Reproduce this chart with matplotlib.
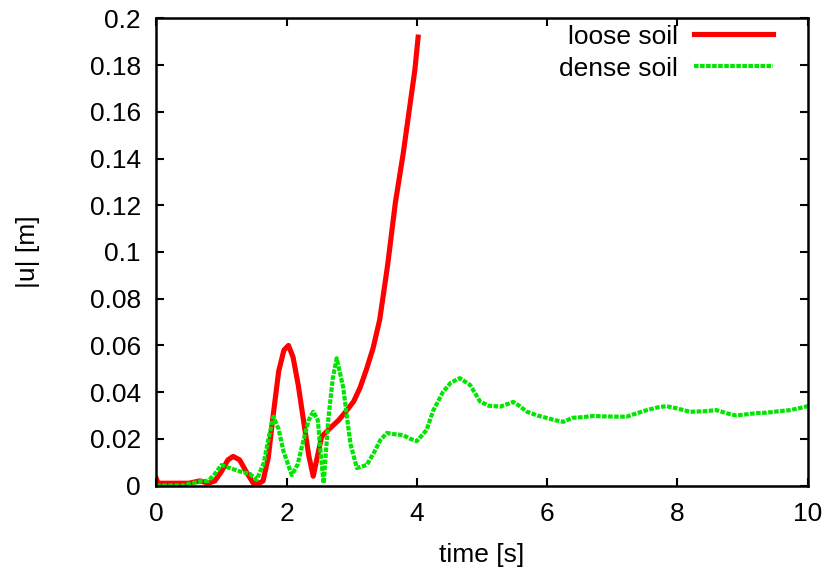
import numpy as np
import matplotlib.pyplot as plt

# loose soil
loose_t = [0.0, 0.03, 0.1, 0.3, 0.5, 0.67, 0.8, 0.9, 1.0, 1.1, 1.18, 1.28, 1.38, 1.49, 1.58, 1.64,
           1.72, 1.79, 1.88, 1.96, 2.03, 2.1, 2.18, 2.26, 2.34, 2.41, 2.47, 2.54, 2.67, 2.8, 2.92,
           3.03, 3.13, 3.23, 3.33, 3.43, 3.55, 3.67, 3.79, 3.9, 3.97, 4.02]
loose_u = [0.003, 0.001, 0.001, 0.001, 0.001, 0.002, 0.001, 0.002, 0.006, 0.011, 0.0125, 0.011, 0.006, 0.001, 0.001, 0.002,
           0.012, 0.029, 0.049, 0.058, 0.060, 0.055, 0.043, 0.028, 0.013, 0.004, 0.012, 0.021, 0.0246, 0.028, 0.032,
           0.036, 0.042, 0.050, 0.059, 0.071, 0.094, 0.121, 0.142, 0.164, 0.178, 0.192]

# dense soil
dense_t = [0.0, 0.2, 0.4, 0.55, 0.7, 0.8, 0.9, 1.0, 1.13, 1.29, 1.44, 1.54, 1.65, 1.73, 1.8, 1.88, 1.95,
           2.08, 2.17, 2.26, 2.34, 2.41, 2.48, 2.53, 2.57, 2.64, 2.71, 2.77, 2.87, 2.98, 3.08, 3.23,
           3.34, 3.44, 3.54, 3.65, 3.79, 3.9, 4.0, 4.15, 4.25, 4.4, 4.52, 4.66, 4.82, 4.97, 5.1, 5.28,
           5.4, 5.48, 5.58, 5.69, 5.85, 6.0, 6.12, 6.25, 6.39, 6.55, 6.71, 6.9, 7.05, 7.22, 7.38, 7.53,
           7.7, 7.83, 8.0, 8.19, 8.4, 8.6, 8.75, 8.9, 9.06, 9.2, 9.37, 9.55, 9.73, 9.88, 10.0]
dense_u = [0.0, 0.0, 0.0, 0.001, 0.002, 0.002, 0.005, 0.0088, 0.0075, 0.006, 0.005, 0.0024, 0.0096, 0.021, 0.0295, 0.024, 0.015,
           0.0045, 0.009, 0.0195, 0.028, 0.0316, 0.028, 0.012, 0.001, 0.028, 0.046, 0.0545, 0.042, 0.018, 0.0075, 0.0088,
           0.014, 0.0195, 0.0225, 0.022, 0.0216, 0.020, 0.019, 0.0238, 0.032, 0.040, 0.044, 0.046, 0.043, 0.036, 0.0342, 0.0338,
           0.035, 0.0358, 0.034, 0.0316, 0.030, 0.0289, 0.028, 0.0273, 0.029, 0.0293, 0.0298, 0.0296, 0.0295, 0.0295, 0.031, 0.0323,
           0.0335, 0.034, 0.033, 0.0316, 0.0318, 0.0323, 0.031, 0.030, 0.0305, 0.031, 0.0312, 0.0318, 0.0323, 0.0332, 0.034]

ytick_labels = ['0', '0.02', '0.04', '0.06', '0.08', '0.1', '0.12', '0.14', '0.16', '0.18', '0.2']

plt.rcParams['font.family'] = ['Liberation Sans', 'DejaVu Sans']

fig = plt.figure(figsize=(8.31, 5.76), dpi=100)
ax = fig.add_axes([0.188, 0.157, 0.784, 0.811])

ax.plot(loose_t, loose_u, color='#ff0000', lw=3.7, label='loose soil')
ax.plot(dense_t, dense_u, color='#00e600', lw=3.0, linestyle=(0, (1.1, 0.35)), label='dense soil')

ax.set_xlim(0, 10)
ax.set_ylim(0, 0.2)
ax.set_xticks([0, 2, 4, 6, 8, 10])
ax.set_yticks(np.linspace(0, 0.2, 11))
ax.set_yticklabels(ytick_labels)

ax.tick_params(direction='in', length=6, width=1.5, top=True, right=True, labelsize=19)
ax.tick_params(axis='y', pad=11)
ax.tick_params(axis='x', pad=12)
for s in ax.spines.values():
    s.set_linewidth(1.8)

ax.set_xlabel('time [s]', fontsize=19)
ax.set_ylabel('|u| [m]', fontsize=19)
ax.xaxis.set_label_coords(0.5, -0.124)
ax.yaxis.set_label_coords(-0.178, 0.5)

ax.legend(loc='upper right', bbox_to_anchor=(0.953, 0.995), frameon=False, markerfirst=False,
          fontsize=19, handlelength=3.0, labelspacing=0.3, borderaxespad=0.0,
          borderpad=0.15, handletextpad=0.6)

fig.savefig('out.png', dpi=100)
